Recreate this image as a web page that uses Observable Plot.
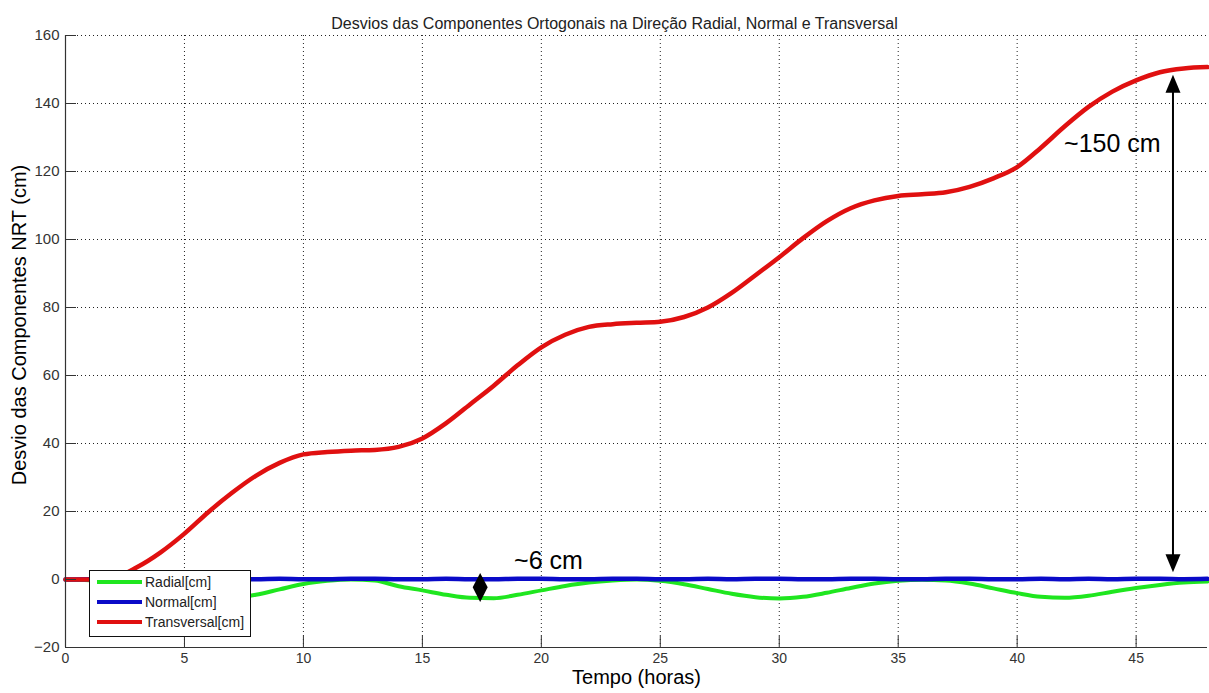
<!DOCTYPE html>
<html>
<head>
<meta charset="utf-8">
<script src="https://cdn.jsdelivr.net/npm/d3@7"></script>
<script src="https://cdn.jsdelivr.net/npm/@observablehq/plot@0.6"></script>
<style>
  html, body { margin: 0; padding: 0; background: #fff; }
  svg { display: block; }
</style>
</head>
<body>
<div id="chart"></div>
<script>
// ---- Data ----
const hours = [0,1,2,3,4,5,6,7,8,9,10,11,12,13,14,15,16,17,18,19,20,21,22,23,24,25,26,27,28,29,30,31,32,33,34,35,36,37,38,39,40,41,42,43,44,45,46,47,48];

const radial = [0,-0.2,-0.9,-2.0,-3.4,-4.7,-5.5,-5.4,-4.5,-2.9,-1.3,-0.4,0,-0.3,-2.0,-3.2,-4.5,-5.4,-5.5,-4.5,-3.2,-1.9,-0.9,-0.3,0,-0.4,-1.4,-2.8,-4.2,-5.2,-5.6,-5.1,-3.9,-2.5,-1.2,-0.4,-0.1,-0.3,-1.2,-2.6,-4.0,-5.1,-5.4,-4.8,-3.6,-2.5,-1.6,-0.9,-0.6];

const normal = [0,0.1,0.1,0.2,0.1,0.1,0.2,0.2,0.1,0.2,0.1,0.1,0.2,0.2,0.1,0.1,0.2,0.1,0.1,0.2,0.2,0.1,0.1,0.2,0.2,0.1,0.1,0.2,0.1,0.2,0.2,0.1,0.1,0.2,0.2,0.1,0.1,0.2,0.2,0.1,0.1,0.2,0.1,0.2,0.1,0.2,0.2,0.1,0.2];

const transversal = [0,0,0.5,3.6,8,13.5,19.8,25.5,30.5,34.3,36.8,37.5,37.9,38.1,39,41.5,46,51.5,57,63,68.3,72,74.3,75.1,75.5,75.8,77.2,80.0,84.3,89.5,94.8,100.4,105.4,109.2,111.5,112.8,113.3,113.9,115.5,118.0,121.3,127.0,133.3,139.0,143.5,146.8,149.2,150.3,150.7];

const seriesNames = ["Radial[cm]", "Normal[cm]", "Transversal[cm]"];
const seriesColors = ["#1fe61f", "#0a0ac8", "#e01010"];

const xTicks = [0,5,10,15,20,25,30,35,40,45];
const yTicks = [-20,0,20,40,60,80,100,120,140,160];

const titleText = "Desvios das Componentes Ortogonais na Direção Radial, Normal e Transversal";
const xLabel = "Tempo (horas)";
const yLabel = "Desvio das Componentes NRT (cm)";

// annotations (data coordinates)
const annoTexts = ["~150 cm", "~6 cm"];
const annoX = [44.0, 20.3];
const annoY = [128.2, 5.3];
const bigArrow = {x: 46.57, from: 2.0, to: 148.3};
const smallArrow = {x: 17.45, from: -6.8, to: 1.8, mid: -2.4};

// ---- Build tables ----
const rows = [];
seriesNames.forEach((name, i) => {
  const vals = [radial, normal, transversal][i];
  hours.forEach((h, j) => rows.push({series: name, t: h, v: vals[j]}));
});
const annos = annoTexts.map((t, i) => ({text: t, x: annoX[i], y: annoY[i]}));

// ---- Layout ----
const W = 1209, H = 693;
const mT = 35, mB = 46, mL = 65, mR = 2;
const innerW = W - mL - mR, innerH = H - mT - mB;
const font = "'Liberation Sans', Arial, Helvetica, sans-serif";

const plot = Plot.plot({
  width: W, height: H,
  marginTop: mT, marginBottom: mB, marginLeft: mL, marginRight: mR,
  x: {domain: [0, 48]},
  y: {domain: [-20, 160]},
  style: {fontFamily: font, background: "#fff", overflow: "visible"},
  marks: [
    Plot.ruleX(xTicks.filter(d => d > 0), {stroke: "#222", strokeDasharray: "1,3", strokeWidth: 1}),
    Plot.ruleY(yTicks.filter(d => d > -20), {stroke: "#222", strokeDasharray: "1,3", strokeWidth: 1}),
    Plot.line(rows.filter(d => d.series === seriesNames[0]), {x: "t", y: "v", stroke: seriesColors[0], strokeWidth: 4, curve: "monotone-x"}),
    Plot.line(rows.filter(d => d.series === seriesNames[1]), {x: "t", y: "v", stroke: seriesColors[1], strokeWidth: 4.5, curve: "monotone-x"}),
    Plot.line(rows.filter(d => d.series === seriesNames[2]), {x: "t", y: "v", stroke: seriesColors[2], strokeWidth: 4.5, curve: "monotone-x"}),
    Plot.tickX(xTicks, {x: d => d, insetTop: innerH - 11, stroke: "#333"}),
    Plot.tickY(yTicks, {y: d => d, insetRight: innerW - 11, stroke: "#333"}),
    Plot.ruleX([0], {stroke: "#333", strokeWidth: 1.2}),
    Plot.ruleY([-20], {stroke: "#333", strokeWidth: 1.2}),
    Plot.axisX(xTicks, {tickSize: 0, tickPadding: 6, fontSize: 14, label: null, fill: "#333"}),
    Plot.axisY(yTicks, {tickSize: 0, tickPadding: 6, fontSize: 15, label: null, fill: "#333"}),
    Plot.text([titleText], {frameAnchor: "top", dy: -18, dx: -22, fontSize: 16, fill: "#222"}),
    Plot.text([xLabel], {frameAnchor: "bottom", dy: 36, fontSize: 20, fill: "#000"}),
    Plot.text(annos, {x: "x", y: "y", text: "text", fontSize: 25, fill: "#000"})
  ]
});

// ---- Arrows, y label and legend (positioned through the plot's scales / margins) ----
const sx = plot.scale("x"), sy = plot.scale("y");
const svg = d3.select(plot);
const g = svg.append("g");

svg.append("text")
  .attr("transform", `translate(19,${mT + innerH / 2 - 16}) rotate(-90)`)
  .attr("text-anchor", "middle").attr("dy", "0.35em")
  .attr("font-family", font).attr("font-size", 20).attr("fill", "#000")
  .text(yLabel);

function arrowHead(x, tipY, dir, len, half) {
  const baseY = tipY + dir * len;
  return `${x},${tipY} ${x - half},${baseY} ${x + half},${baseY}`;
}
{
  const x = sx.apply(bigArrow.x);
  const yTop = sy.apply(bigArrow.to), yBot = sy.apply(bigArrow.from);
  g.append("line").attr("x1", x).attr("x2", x).attr("y1", yTop + 10).attr("y2", yBot - 10)
    .attr("stroke", "#000").attr("stroke-width", 2);
  g.append("polygon").attr("points", arrowHead(x, yTop, 1, 18, 7.5)).attr("fill", "#000");
  g.append("polygon").attr("points", arrowHead(x, yBot, -1, 18, 7.5)).attr("fill", "#000");
}
{
  const x = sx.apply(smallArrow.x);
  const yTop = sy.apply(smallArrow.to), yBot = sy.apply(smallArrow.from), yMid = sy.apply(smallArrow.mid);
  g.append("polygon").attr("points", `${x},${yTop} ${x - 7.5},${yMid} ${x},${yBot} ${x + 7.5},${yMid}`).attr("fill", "#000");
}

// legend
const lg = svg.append("g").attr("font-family", font).attr("font-size", 14).attr("text-anchor", "start");
lg.append("rect").attr("x", mL + 24.5).attr("y", 570.5).attr("width", 161).attr("height", 66)
  .attr("fill", "#fff").attr("stroke", "#111").attr("stroke-width", 1);
seriesNames.forEach((name, i) => {
  const yy = 582 + i * 20;
  lg.append("line").attr("x1", mL + 32).attr("x2", mL + 77).attr("y1", yy).attr("y2", yy)
    .attr("stroke", seriesColors[i]).attr("stroke-width", 4);
  lg.append("text").attr("x", mL + 80).attr("y", yy).attr("dy", "0.35em").attr("fill", "#222")
    .attr("text-anchor", "start").text(name);
});

document.getElementById("chart").appendChild(plot);
</script>
</body>
</html>
